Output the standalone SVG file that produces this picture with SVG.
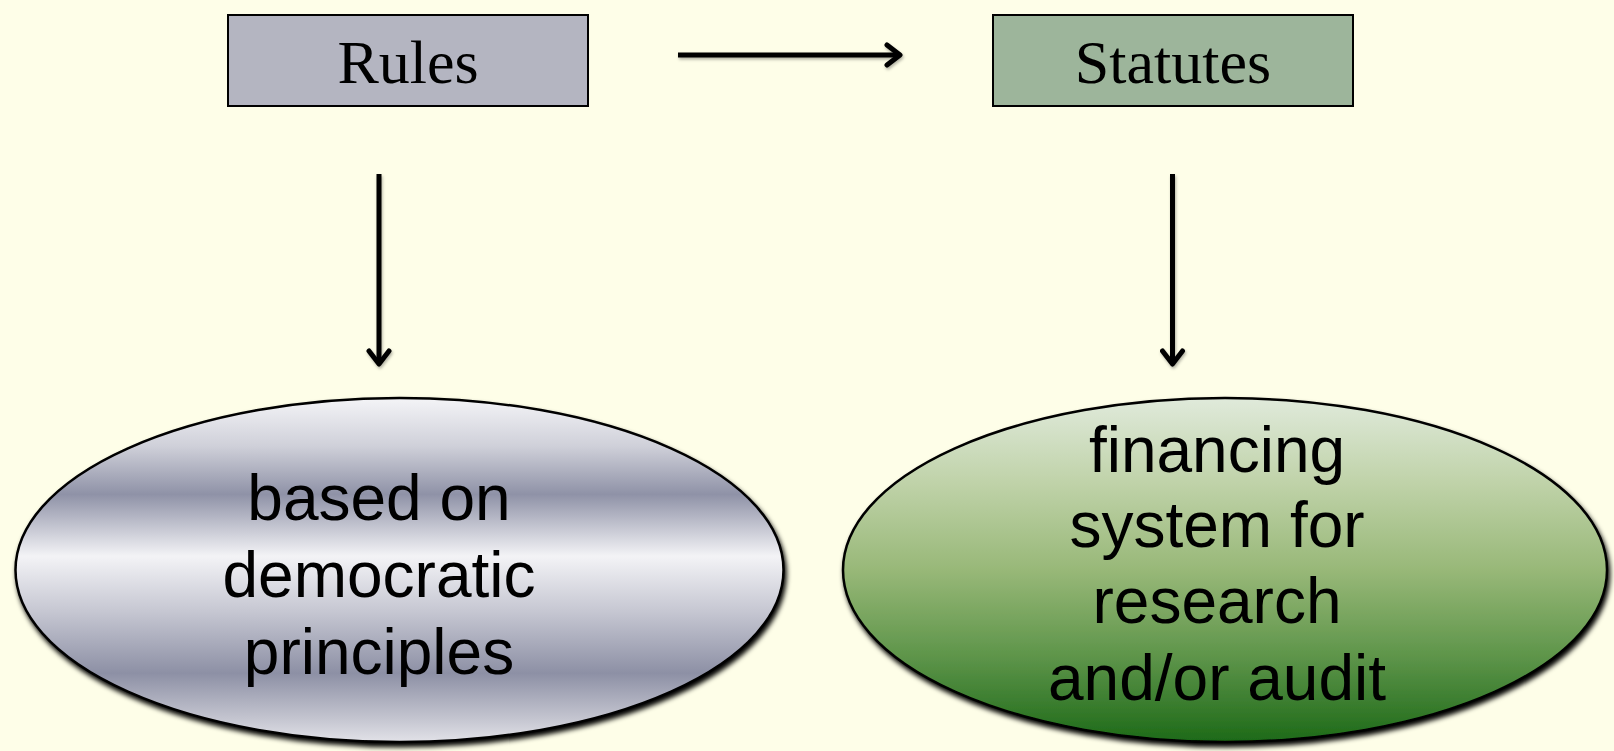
<svg xmlns="http://www.w3.org/2000/svg" width="1614" height="751" viewBox="0 0 1614 751">
<style>
.box{stroke:#000;stroke-width:2}
.title{font-family:"Liberation Serif","Times New Roman",serif;font-size:62px;fill:#000;text-anchor:middle}
.body{font-family:"Liberation Sans",Arial,sans-serif;font-size:64px;fill:#000;text-anchor:middle}
.conn{stroke:#000;stroke-width:5;fill:none;marker-end:url(#arr)}
.ell{stroke:#000;stroke-width:2.5}
</style>
<defs>
<marker id="arr" viewBox="0 0 24 26" refX="19" refY="13" markerWidth="24" markerHeight="26" orient="auto" markerUnits="userSpaceOnUse">
<path d="M6,3 L19,13 L6,23" fill="none" stroke="#000" stroke-width="5" stroke-linecap="round" stroke-linejoin="round"/>
</marker>
<filter id="sh" x="-10%" y="-10%" width="125%" height="130%">
<feDropShadow dx="2" dy="4" stdDeviation="2.5" flood-color="#000" flood-opacity="1"/>
</filter>
<filter id="lsh" x="-10%" y="-10%" width="120%" height="140%">
<feDropShadow dx="1" dy="2" stdDeviation="1.5" flood-color="#000" flood-opacity="0.3"/>
</filter>
<linearGradient id="gmetal" x1="0" y1="0" x2="0" y2="1">
<stop offset="0" stop-color="#f4f4f7"/>
<stop offset="0.14" stop-color="#cfd0d9"/>
<stop offset="0.28" stop-color="#8f92a7"/>
<stop offset="0.46" stop-color="#f3f3f6"/>
<stop offset="0.62" stop-color="#c6c7d2"/>
<stop offset="0.8" stop-color="#8d90a5"/>
<stop offset="0.93" stop-color="#c3c4cf"/>
<stop offset="1" stop-color="#e2e2e8"/>
</linearGradient>
<linearGradient id="ggreen" x1="0" y1="0" x2="0" y2="1">
<stop offset="0" stop-color="#e0eadb"/>
<stop offset="0.25" stop-color="#bfd2a8"/>
<stop offset="0.5" stop-color="#98b878"/>
<stop offset="0.75" stop-color="#5e954a"/>
<stop offset="1" stop-color="#1d6a18"/>
</linearGradient>
</defs>
<rect x="0" y="0" width="1614" height="751" fill="#fefee8"/>

<g id="connectors" filter="url(#lsh)">
<line class="conn" x1="678" y1="55" x2="900" y2="55"/>
<line class="conn" x1="379" y1="174" x2="379" y2="364"/>
<line class="conn" x1="1172.5" y1="174" x2="1172.5" y2="364"/>
</g>

<g id="rules">
<rect class="box" x="228" y="15" width="360" height="91" fill="#b4b5c1"/>
<text class="title" x="408" y="83">Rules</text>
</g>

<g id="statutes">
<rect class="box" x="993" y="15" width="360" height="91" fill="#9db59b"/>
<text class="title" x="1173" y="83">Statutes</text>
</g>

<g id="democratic">
<ellipse class="ell" cx="399.5" cy="570" rx="384" ry="172" fill="url(#gmetal)" filter="url(#sh)"/>
<text class="body" x="379" y="520">based on</text>
<text class="body" x="379" y="597">democratic</text>
<text class="body" x="379" y="674">principles</text>
</g>

<g id="financing">
<ellipse class="ell" cx="1225" cy="570" rx="382" ry="172" fill="url(#ggreen)" filter="url(#sh)"/>
<text class="body" x="1217" y="472">financing</text>
<text class="body" x="1217" y="547">system for</text>
<text class="body" x="1217" y="623">research</text>
<text class="body" x="1217" y="700">and/or audit</text>
</g>
</svg>
